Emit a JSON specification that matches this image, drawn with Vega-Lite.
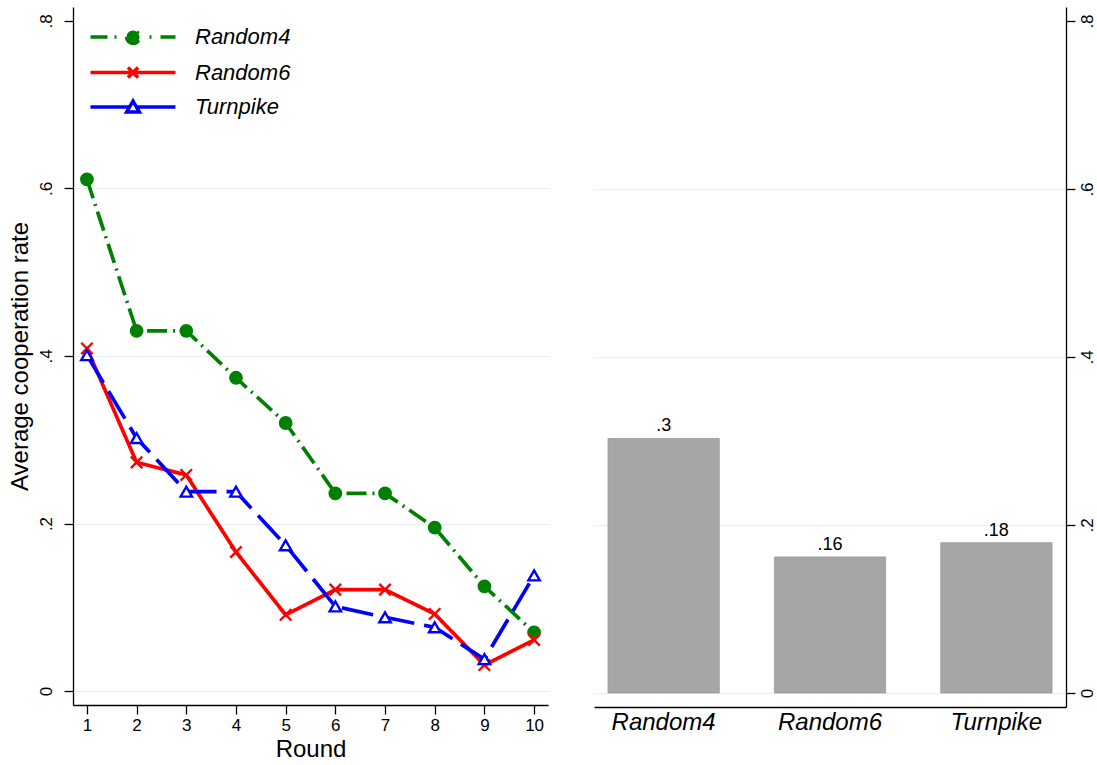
{
  "$schema": "https://vega.github.io/schema/vega-lite/v6.json",
  "padding": {"left": 8, "top": 7, "right": 0, "bottom": 2},
  "background": "white",
  "spacing": 46,
  "resolve": {"scale": {"color": "independent"}},
  "config": {
    "font": "Liberation Sans",
    "view": {"stroke": null},
    "axis": {
      "domainColor": "black", "domainWidth": 1.3,
      "tickColor": "black", "tickWidth": 1.3, "tickSize": 9,
      "labelColor": "black", "labelFontSize": 17, "labelFont": "Liberation Sans",
      "titleColor": "black", "titleFontSize": 24, "titleFontWeight": "normal", "titleFont": "Liberation Sans",
      "gridColor": "#e6eff0", "gridWidth": 1
    }
  },
  "datasets": {
    "lines": [
      {"round": 1, "group": "Random4", "rate": 0.611},
      {"round": 2, "group": "Random4", "rate": 0.430},
      {"round": 3, "group": "Random4", "rate": 0.430},
      {"round": 4, "group": "Random4", "rate": 0.374},
      {"round": 5, "group": "Random4", "rate": 0.320},
      {"round": 6, "group": "Random4", "rate": 0.236},
      {"round": 7, "group": "Random4", "rate": 0.236},
      {"round": 8, "group": "Random4", "rate": 0.195},
      {"round": 9, "group": "Random4", "rate": 0.125},
      {"round": 10, "group": "Random4", "rate": 0.070},
      {"round": 1, "group": "Random6", "rate": 0.409},
      {"round": 2, "group": "Random6", "rate": 0.273},
      {"round": 3, "group": "Random6", "rate": 0.258},
      {"round": 4, "group": "Random6", "rate": 0.166},
      {"round": 5, "group": "Random6", "rate": 0.091},
      {"round": 6, "group": "Random6", "rate": 0.121},
      {"round": 7, "group": "Random6", "rate": 0.121},
      {"round": 8, "group": "Random6", "rate": 0.092},
      {"round": 9, "group": "Random6", "rate": 0.031},
      {"round": 10, "group": "Random6", "rate": 0.061},
      {"round": 1, "group": "Turnpike", "rate": 0.401},
      {"round": 2, "group": "Turnpike", "rate": 0.302},
      {"round": 3, "group": "Turnpike", "rate": 0.238},
      {"round": 4, "group": "Turnpike", "rate": 0.238},
      {"round": 5, "group": "Turnpike", "rate": 0.174},
      {"round": 6, "group": "Turnpike", "rate": 0.101},
      {"round": 7, "group": "Turnpike", "rate": 0.088},
      {"round": 8, "group": "Turnpike", "rate": 0.076},
      {"round": 9, "group": "Turnpike", "rate": 0.038},
      {"round": 10, "group": "Turnpike", "rate": 0.138}
    ],
    "bars": [
      {"group": "Random4", "rate": 0.303, "label": ".3"},
      {"group": "Random6", "rate": 0.162, "label": ".16"},
      {"group": "Turnpike", "rate": 0.179, "label": ".18"}
    ]
  },
  "hconcat": [
    {
      "width": 475,
      "height": 698,
      "data": {"name": "lines"},
      "encoding": {
        "x": {
          "field": "round", "type": "quantitative",
          "scale": {"domain": [0.72, 10.28], "nice": false, "zero": false},
          "axis": {"title": "Round", "values": [1,2,3,4,5,6,7,8,9,10], "grid": false, "labelPadding": 3, "titlePadding": 4, "labelFlush": false}
        },
        "y": {
          "field": "rate", "type": "quantitative",
          "scale": {"domain": [-0.0167, 0.8167], "nice": false, "zero": false},
          "axis": {
            "title": "Average cooperation rate",
            "values": [0, 0.2, 0.4, 0.6, 0.8],
            "labelExpr": "datum.value == 0 ? '0' : substring(format(datum.value, '.1f'), 1)",
            "labelAngle": 270, "labelAlign": "center", "labelBaseline": "bottom", "labelPadding": 9,
            "titlePadding": 5,
            "grid": true,
            "gridOpacity": {"condition": {"test": "datum.value > 0.7", "value": 0}, "value": 1}
          }
        }
      },
      "layer": [
        {
          "mark": {"type": "line", "strokeWidth": 3.7},
          "encoding": {
            "color": {
              "field": "group", "type": "nominal",
              "scale": {"domain": ["Random4", "Random6", "Turnpike"], "range": ["#008000", "#ff0000", "#0000ff"]},
              "legend": {
                "orient": "none", "legendX": 49, "legendY": 19, "title": null, "padding": 0,
                "symbolSize": 289, "symbolStrokeWidth": 3.5,
                "labelFontSize": 22, "labelFontStyle": "italic", "labelColor": "black", "labelFont": "Liberation Sans",
                "labelOffset": 51, "rowPadding": 8.5,
                "encode": {
                  "symbols": {
                    "update": {
                      "shape": {"signal": "datum.value === 'Random4' ? 'M-5,0H5M-0.76,0A0.76,0.76 0 1,0 0.76,0A0.76,0.76 0 1,0 -0.76,0Z' : (datum.value === 'Random6' ? 'M-5,0H5M-0.6,-0.6L0.6,0.6M-0.6,0.6L0.6,-0.6' : 'M-5,0H-0.4M0.4,0H5M0,-0.7L0.75,0.6L-0.75,0.6Z')"},
                      "strokeDash": {"signal": "datum.value === 'Random4' ? [17,7,2,33,2,9,17,100] : [1,0]"},
                      "fill": {"signal": "datum.value === 'Random4' ? '#008000' : (datum.value === 'Turnpike' ? 'white' : 'transparent')"},
                      "stroke": {"signal": "scale('color', datum.value)"},
                      "strokeWidth": {"value": 3.5},
                      "opacity": {"value": 1}
                    }
                  }
                }
              }
            },
            "strokeDash": {
              "field": "group", "type": "nominal",
              "scale": {"domain": ["Random4", "Random6", "Turnpike"], "range": [[20, 6, 2, 6], [1, 0], [32, 10]]},
              "legend": null
            }
          }
        },
        {
          "mark": {"type": "point", "filled": false, "size": 130, "strokeWidth": 2.4, "opacity": 1},
          "encoding": {
            "color": {"field": "group", "type": "nominal", "legend": null},
            "shape": {
              "field": "group", "type": "nominal",
              "scale": {"domain": ["Random4", "Random6", "Turnpike"], "range": ["circle", "M-1,-1L1,1M-1,1L1,-1", "triangle-up"]},
              "legend": null
            },
            "fill": {
              "field": "group", "type": "nominal",
              "scale": {"domain": ["Random4", "Random6", "Turnpike"], "range": ["#008000", "transparent", "white"]},
              "legend": null
            }
          }
        }
      ]
    },
    {
      "width": 472,
      "height": 700,
      "data": {"name": "bars"},
      "encoding": {
        "x": {
          "field": "group", "type": "nominal", "sort": null,
          "scale": {"paddingInner": 0.331, "paddingOuter": 0.084},
          "axis": {"title": null, "labelAngle": 0, "ticks": false, "labelFontSize": 24, "labelFontStyle": "italic", "labelPadding": 3}
        },
        "y": {
          "field": "rate", "type": "quantitative",
          "scale": {"domain": [-0.0167, 0.8167], "nice": false, "zero": false},
          "axis": {
            "orient": "right", "title": null,
            "values": [0, 0.2, 0.4, 0.6, 0.8],
            "labelExpr": "datum.value == 0 ? '0' : substring(format(datum.value, '.1f'), 1)",
            "labelAngle": 270, "labelAlign": "center", "labelBaseline": "top", "labelPadding": 4,
            "grid": true,
            "gridOpacity": {"condition": {"test": "datum.value > 0.7", "value": 0}, "value": 1}
          }
        }
      },
      "layer": [
        {
          "mark": {"type": "bar", "fill": "#a6a6a6", "stroke": "#9a9a9a", "strokeWidth": 0.8},
          "encoding": {"y2": {"datum": 0}}
        },
        {
          "mark": {"type": "text", "baseline": "alphabetic", "dy": -7, "fontSize": 18, "color": "black", "font": "Liberation Sans"},
          "encoding": {"text": {"field": "label"}}
        }
      ]
    }
  ]
}
